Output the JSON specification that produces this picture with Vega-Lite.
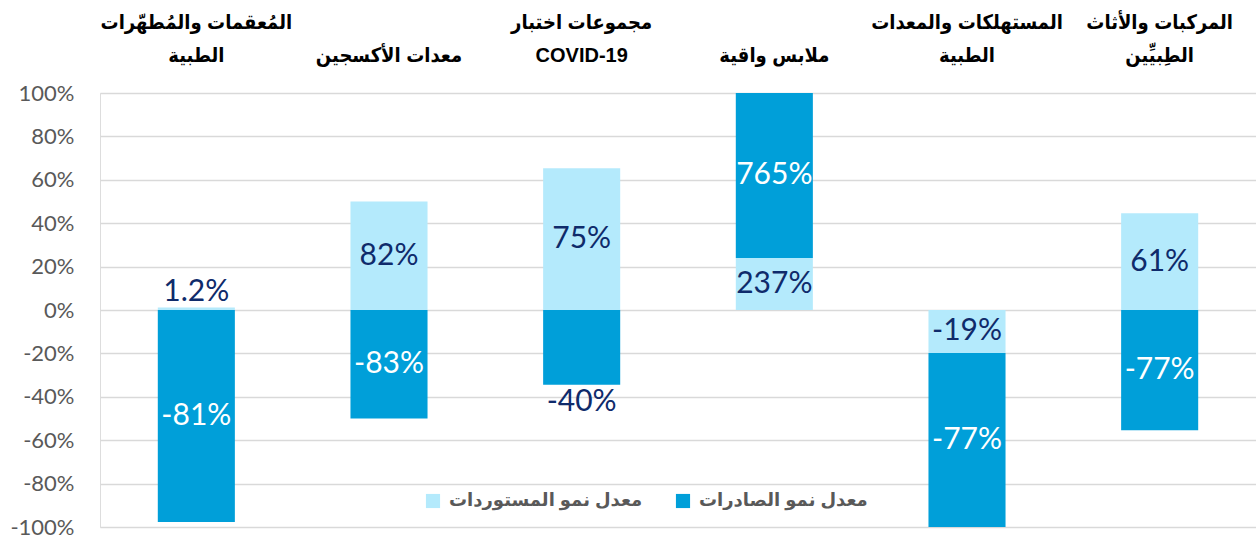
{
  "$schema": "https://vega.github.io/schema/vega-lite/v6.json",
  "width": 1156,
  "height": 434,
  "autosize": {"type": "none"},
  "padding": {"left": 100, "top": 93, "right": 0, "bottom": 8},
  "background": "white",
  "data": {
    "values": [
      {"category": "المُعقمات والمُطهّرات\nالطبية", "series": "معدل نمو المستوردات", "plot": 1.2, "value": 1.2},
      {"category": "المُعقمات والمُطهّرات\nالطبية", "series": "معدل نمو الصادرات", "plot": -97.7, "value": -81},
      {"category": "معدات الأكسجين", "series": "معدل نمو المستوردات", "plot": 50, "value": 82},
      {"category": "معدات الأكسجين", "series": "معدل نمو الصادرات", "plot": -50, "value": -83},
      {"category": "مجموعات اختبار\nCOVID-19", "series": "معدل نمو المستوردات", "plot": 65.3, "value": 75},
      {"category": "مجموعات اختبار\nCOVID-19", "series": "معدل نمو الصادرات", "plot": -34.5, "value": -40},
      {"category": "ملابس واقية", "series": "معدل نمو المستوردات", "plot": 24, "value": 237},
      {"category": "ملابس واقية", "series": "معدل نمو الصادرات", "plot": 76, "value": 765},
      {"category": "المستهلكات والمعدات\nالطبية", "series": "معدل نمو المستوردات", "plot": -19.8, "value": -19},
      {"category": "المستهلكات والمعدات\nالطبية", "series": "معدل نمو الصادرات", "plot": -80.2, "value": -77},
      {"category": "المركبات والأثاث\nالطِبيِّين", "series": "معدل نمو المستوردات", "plot": 44.6, "value": 61},
      {"category": "المركبات والأثاث\nالطِبيِّين", "series": "معدل نمو الصادرات", "plot": -55.4, "value": -77}
    ]
  },
  "transform": [
    {"calculate": "indexof(['معدل نمو المستوردات', 'معدل نمو الصادرات'], datum.series)", "as": "ord"},
    {"stack": "plot", "groupby": ["category"], "sort": [{"field": "ord", "order": "ascending"}], "offset": "zero", "as": ["y0", "y1"]}
  ],
  "encoding": {
    "x": {
      "field": "category",
      "type": "nominal",
      "sort": null,
      "scale": {"paddingInner": 0.6, "paddingOuter": 0.3},
      "axis": {
        "orient": "top",
        "title": null,
        "labelAngle": 0,
        "labelExpr": "length(split(datum.label, '\\n')) == 1 ? ['', datum.label] : split(datum.label, '\\n')",
        "labelFont": "Liberation Sans, DejaVu Sans Condensed, DejaVu Sans",
        "labelFontSize": 20,
        "labelFontWeight": "bold",
        "labelColor": "#000000",
        "labelLineHeight": 33,
        "labelPadding": 61,
        "labelLimit": 400,
        "labelOverlap": false,
        "labelBound": false,
        "ticks": false,
        "domain": false,
        "grid": false
      }
    }
  },
  "layer": [
    {
      "mark": {"type": "bar"},
      "encoding": {
        "y": {
          "field": "y1",
          "type": "quantitative",
          "scale": {"domain": [-100, 100], "nice": false},
          "axis": {
            "title": null,
            "values": [-100, -80, -60, -40, -20, 0, 20, 40, 60, 80, 100],
            "labelExpr": "datum.value + '%'",
            "labelFont": "Lato",
            "labelFontSize": 22,
            "labelColor": "#595959",
            "labelPadding": 26,
            "ticks": false,
            "domain": false,
            "grid": true,
            "gridColor": "#d9d9d9",
            "gridWidth": 1.3
          }
        },
        "y2": {"field": "y0"},
        "color": {
          "field": "series",
          "type": "nominal",
          "scale": {"domain": ["معدل نمو المستوردات", "معدل نمو الصادرات"], "range": ["#B4EAFC", "#009FD9"]},
          "legend": {
            "title": null,
            "orient": "none",
            "legendX": 324,
            "legendY": 399,
            "direction": "horizontal",
            "columns": 2,
            "symbolType": "square",
            "symbolSize": 200,
            "symbolStrokeWidth": 0,
            "symbolOpacity": 1,
            "labelFont": "Liberation Sans, DejaVu Sans",
            "labelFontSize": 18,
            "labelFontWeight": "bold",
            "labelColor": "#595959",
            "labelOffset": 7,
            "columnPadding": 31,
            "labelLimit": 400
          }
        }
      }
    },
    {
      "transform": [
        {"calculate": "abs(datum.plot) < 5 || (datum.series == 'معدل نمو الصادرات' && abs(datum.plot) < 40)", "as": "outside"},
        {"calculate": "datum.outside ? datum.y1 + (datum.plot > 0 ? 7 : -8) : (datum.y0 + datum.y1) / 2", "as": "ly"},
        {"calculate": "datum.value + '%'", "as": "txt"}
      ],
      "mark": {"type": "text", "font": "Lato", "fontSize": 30, "align": "center", "baseline": "middle"},
      "encoding": {
        "y": {"field": "ly", "type": "quantitative"},
        "text": {"field": "txt"},
        "color": {
          "condition": {"test": "!datum.outside && datum.series == 'معدل نمو الصادرات'", "value": "#ffffff"},
          "value": "#0F2B6B"
        }
      }
    }
  ]
}
